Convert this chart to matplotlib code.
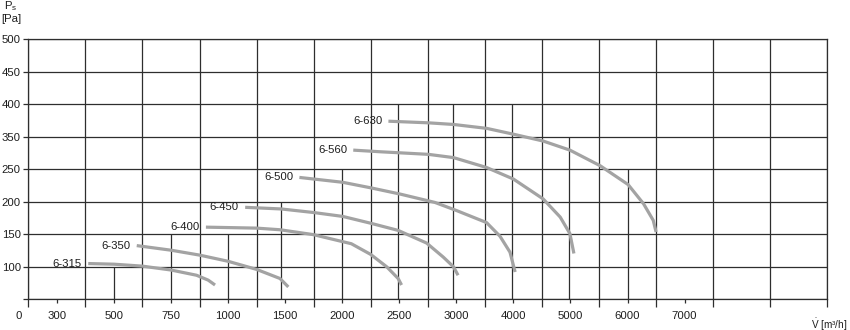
import numpy as np
import matplotlib
matplotlib.use("Agg")
import matplotlib.pyplot as plt

plt.rcParams['font.family'] = ['Liberation Sans', 'DejaVu Sans']
plt.rcParams['mathtext.fontset'] = 'custom'
plt.rcParams['mathtext.rm'] = 'Liberation Sans'
plt.rcParams['mathtext.it'] = 'Liberation Sans'

# Fan curves (flow in m3/h, static pressure in Pa)
flow_315 = [410, 501, 625, 751, 862, 913, 943]
ps_315 = [105, 104, 101, 95, 87, 79.5, 72]

flow_350 = [600, 751, 875, 1000, 1250, 1455, 1528]
ps_350 = [132.6, 125.5, 118, 108.5, 96, 82, 69]

flow_400 = [903, 1250, 1455, 1747, 2080, 2250, 2390, 2490, 2520]
ps_400 = [161, 159.5, 157, 149.5, 135.5, 119, 100, 82, 72]

flow_450 = [1150, 1465, 1750, 2005, 2250, 2490, 2740, 2885, 2975, 3030]
ps_450 = [191.5, 189, 183.5, 177.5, 167, 156, 136.5, 115, 100, 87]

flow_500 = [1625, 2005, 2250, 2505, 2813, 3005, 3530, 3765, 3940, 4030]
ps_500 = [237.5, 230, 221.5, 212, 199, 186.5, 168, 147, 122.5, 92]

flow_560 = [2097, 2331, 2755, 2975, 3530, 4000, 4520, 4820, 4990, 5060]
ps_560 = [309, 304, 296, 286, 255.5, 235, 204.5, 176.5, 151, 120.5]

flow_630 = [2405, 2755, 2975, 3530, 4000, 4520, 4990, 5520, 6010, 6280, 6450, 6500]
ps_630 = [374, 371.5, 369, 363, 354, 337, 309, 261, 226.5, 197, 171.5, 153.5]

fan_names = ['6-315', '6-350', '6-400', '6-450', '6-500', '6-560', '6-630']
flows = [flow_315, flow_350, flow_400, flow_450, flow_500, flow_560, flow_630]
pressures = [ps_315, ps_350, ps_400, ps_450, ps_500, ps_560, ps_630]

# axis tick labels as printed (both axes are non-linear in the original)
x_ticks = [300, 500, 750, 1000, 1500, 2000, 2500, 3000, 4000, 5000, 6000, 7000]
y_ticks = [100, 150, 200, 250, 350, 400, 450, 500]

# short vertical lines rising from the bottom: flow value and top pressure
short_x = [500, 750, 1000, 1460, 2000, 2490, 2970, 3970, 4980, 6000]
short_top = [100, 150, 150, 200, 250, 400, 400, 400, 350, 250]

# piecewise scales: each tick sits in its own evenly spaced slot
x_knots = [200] + x_ticks + [9500]
x_pos = [0] + [k + 0.5 for k in range(len(x_ticks))] + [14]
y_knots = [50] + y_ticks
y_pos = list(range(len(y_knots)))


def fx(v):
    return np.interp(v, x_knots, x_pos)


def fx_inv(p):
    return np.interp(p, x_pos, x_knots)


def fy(v):
    return np.interp(v, y_knots, y_pos)


def fy_inv(p):
    return np.interp(p, y_pos, y_knots)


W, H = 850, 330
fig = plt.figure(figsize=(W / 100, H / 100), dpi=100)
ax = fig.add_axes([28.3 / W, 1 - 299.3 / H, 799 / W, 260 / H])
ax.set_xscale('function', functions=(fx, fx_inv))
ax.set_yscale('function', functions=(fy, fy_inv))
ax.set_xlim(200, 9500)
ax.set_ylim(50, 500)

grid_col = '#2e2e2e'
txt_col = '#1e1e1e'
curve_col = '#a3a3a3'

# x ticks: labelled ones short, slot borders long and used for the grid
ax.set_xticks(x_ticks)
ax.set_xticklabels([str(v) for v in x_ticks])
ax.set_xticks(fx_inv(np.arange(0, 15)), minor=True)
ax.tick_params(axis='x', which='major', length=3, width=0.9, color=grid_col,
               pad=5.5, labelsize=8.2, labelcolor=txt_col)
ax.tick_params(axis='x', which='minor', length=6, width=0.9, color=grid_col)
ax.grid(True, axis='x', which='minor', color=grid_col, linewidth=0.9)

ax.set_yticks([50] + y_ticks)
ax.set_yticklabels([''] + [str(v) for v in y_ticks])
ax.tick_params(axis='y', which='major', length=3.6, width=0.9, color=grid_col,
               pad=1.8, labelsize=8.2, labelcolor=txt_col)
ax.grid(True, axis='y', which='major', color=grid_col, linewidth=0.9)
ax.set_axisbelow(True)

for s in ax.spines.values():
    s.set_color(grid_col)
    s.set_linewidth(0.9)

ax.vlines(short_x, 50, short_top, color=grid_col, linewidth=0.9, zorder=1)

for name, q, p in zip(fan_names, flows, pressures):
    ax.plot(q, p, color=curve_col, linewidth=2.3, solid_capstyle='butt',
            solid_joinstyle='round', zorder=3)
    ax.annotate(name, xy=(q[0], p[0]), xytext=(-4.5, 0), textcoords='offset points',
                ha='right', va='center', fontsize=8.2, color=txt_col)

# axis captions and origin label
fig.text(11 / W, 1 - 6.5 / H, r'$\mathrm{P_s}$', ha='center', va='center',
         fontsize=8.2, color=txt_col)
fig.text(11 / W, 1 - 19 / H, '[Pa]', ha='center', va='center',
         fontsize=8.2, color=txt_col)
fig.text(18.3 / W, 1 - 316 / H, '0', ha='center', va='center',
         fontsize=8.2, color=txt_col)
fig.text(847 / W, 1 - 323.5 / H, r'$\mathrm{\dot{V}}$ [m³/h]', ha='right', va='center',
         fontsize=7.2, color=txt_col)

fig.savefig('out.png', dpi=100)
